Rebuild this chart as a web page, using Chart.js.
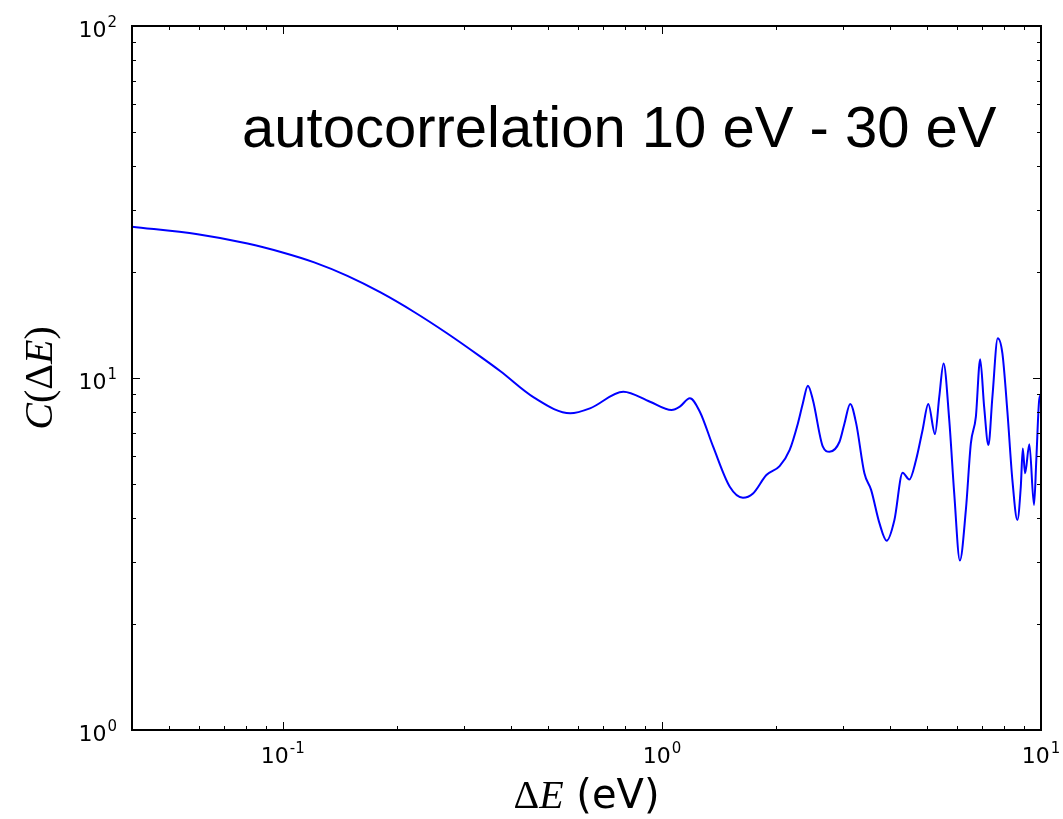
<!DOCTYPE html>
<html lang="en">
<head>
  <meta charset="UTF-8" />
  <title>Autocorrelation 10 eV - 30 eV</title>
  <script src="https://cdn.jsdelivr.net/npm/chart.js"></script>
  <style>
    html, body { margin: 0; padding: 0; background: #fff; }
    #wrap { width: 1063px; height: 819px; }
  </style>
</head>
<body>
<div id="wrap"><canvas id="acChart" width="1063" height="819"></canvas></div>

<script>
// energy separation (eV) and autocorrelation values
const deltaE = [
  0.040, 0.0596, 0.0807, 0.0988, 0.121, 0.148, 0.181, 0.222, 0.271, 0.332,
  0.375, 0.459, 0.573, 0.646, 0.791, 0.930, 1.060, 1.115, 1.185, 1.259,
  1.365, 1.510, 1.636, 1.739, 1.886, 2.044, 2.173, 2.284, 2.354, 2.427,
  2.502, 2.658, 2.767, 2.941, 3.031, 3.138, 3.254, 3.421, 3.563, 3.748,
  3.916, 4.105, 4.315, 4.494, 4.681, 4.871, 5.043, 5.253, 5.391, 5.533,
  5.727, 5.903, 6.110, 6.336, 6.531, 6.732, 6.911, 7.079, 7.266, 7.445,
  7.690, 7.910, 8.154, 8.405, 8.663, 8.845, 8.953, 9.077, 9.316, 9.585,
  9.719, 9.880, 10.0
];
const corr = [
  26.9, 25.6, 24.1, 22.8, 21.3, 19.5, 17.5, 15.4, 13.4, 11.5,
  10.45, 8.81, 7.94, 8.20, 9.14, 8.56, 8.11, 8.29, 8.76, 8.02,
  6.38, 4.91, 4.57, 4.70, 5.30, 5.62, 6.25, 7.43, 8.48, 9.51,
  8.66, 6.38, 6.17, 6.59, 7.43, 8.44, 7.43, 5.36, 4.81, 3.87,
  3.45, 3.95, 5.38, 5.15, 5.85, 7.12, 8.44, 6.93, 8.85, 11.0,
  7.60, 4.70, 3.03, 4.22, 6.52, 7.76, 11.3, 8.29, 6.45, 8.85,
  12.97, 11.75, 8.02, 5.13, 3.95, 4.91, 6.31, 5.36, 6.48, 4.36,
  5.85, 8.56, 9.0
];

const xMajorTicks = [0.1, 1, 10];
const xTickExps = ['-1', '0', '1'];
const xMinorTicks = [0.05, 0.06, 0.07, 0.08, 0.09, 0.2, 0.3, 0.4, 0.5, 0.6, 0.7, 0.8, 0.9,
                     2, 3, 4, 5, 6, 7, 8, 9];
const yMajorTicks = [1, 10, 100];
const yTickExps = ['0', '1', '2'];
const yMinorTicks = [2, 3, 4, 5, 6, 7, 8, 9, 20, 30, 40, 50, 60, 70, 80, 90];

const titleText = 'autocorrelation 10 eV - 30 eV';

// draws "10" with a raised exponent
function drawPow(ctx, exp, x, y, align) {
  ctx.font = '22px "DejaVu Sans"';
  const w1 = ctx.measureText('10').width;
  ctx.font = '15px "DejaVu Sans"';
  const w2 = ctx.measureText(exp).width;
  const total = w1 + w2 + 1;
  let sx = x;
  if (align === 'center') sx = x - total / 2;
  else if (align === 'right') sx = x - total;
  ctx.textAlign = 'left';
  ctx.textBaseline = 'alphabetic';
  ctx.font = '22px "DejaVu Sans"';
  ctx.fillText('10', sx, y);
  ctx.font = '15px "DejaVu Sans"';
  ctx.fillText(exp, sx + w1 + 1, y - 10);
}

// draws a list of [text, font] pieces centred at x
function drawPieces(ctx, pieces, x, y) {
  let total = 0;
  for (const p of pieces) { ctx.font = p[1]; total += ctx.measureText(p[0]).width; }
  let sx = x - total / 2;
  ctx.textAlign = 'left';
  ctx.textBaseline = 'alphabetic';
  for (const p of pieces) {
    ctx.font = p[1];
    ctx.fillText(p[0], sx, y);
    sx += ctx.measureText(p[0]).width;
  }
}

const axesPlugin = {
  id: 'mplAxes',
  afterDraw(chart) {
    const ctx = chart.ctx;
    const a = chart.chartArea;
    const xs = chart.scales.x, ys = chart.scales.y;
    ctx.save();
    ctx.fillStyle = '#000';

    // inward ticks on all four sides
    ctx.strokeStyle = '#000';
    ctx.lineWidth = 1;
    const tick = (x1, y1, x2, y2) => { ctx.beginPath(); ctx.moveTo(x1, y1); ctx.lineTo(x2, y2); ctx.stroke(); };
    xMajorTicks.forEach(v => { const px = Math.round(xs.getPixelForValue(v)) + 0.5; tick(px, a.bottom, px, a.bottom - 8); tick(px, a.top, px, a.top + 8); });
    xMinorTicks.forEach(v => { const px = Math.round(xs.getPixelForValue(v)) + 0.5; tick(px, a.bottom, px, a.bottom - 4); tick(px, a.top, px, a.top + 4); });
    yMajorTicks.forEach(v => { const py = Math.round(ys.getPixelForValue(v)) + 0.5; tick(a.left, py, a.left + 8, py); tick(a.right, py, a.right - 8, py); });
    yMinorTicks.forEach(v => { const py = Math.round(ys.getPixelForValue(v)) + 0.5; tick(a.left, py, a.left + 4, py); tick(a.right, py, a.right - 4, py); });

    // frame
    ctx.lineWidth = 2;
    ctx.strokeRect(a.left, a.top, a.right - a.left, a.bottom - a.top);

    // tick labels
    xMajorTicks.forEach((v, i) => drawPow(ctx, xTickExps[i], xs.getPixelForValue(v), a.bottom + 33, 'center'));
    yMajorTicks.forEach((v, i) => drawPow(ctx, yTickExps[i], a.left - 15, ys.getPixelForValue(v) + 11, 'right'));

    // x axis label
    drawPieces(ctx, [
      ['\u0394', '40px "Liberation Serif"'],
      ['E', 'italic 40px "Liberation Serif"'],
      [' (eV)', '40px "DejaVu Sans"']
    ], (a.left + a.right) / 2, 808);

    // y axis label
    ctx.save();
    ctx.translate(52, (a.top + a.bottom) / 2);
    ctx.rotate(-Math.PI / 2);
    drawPieces(ctx, [
      ['C', 'italic 40px "Liberation Serif"'],
      ['(', '40px "Liberation Serif"'],
      ['\u0394', '40px "Liberation Serif"'],
      ['E', 'italic 40px "Liberation Serif"'],
      [')', '40px "Liberation Serif"']
    ], 0, 0);
    ctx.restore();

    // text inside the axes
    ctx.font = '58px "Liberation Sans"';
    ctx.textAlign = 'left';
    ctx.textBaseline = 'alphabetic';
    ctx.fillText(titleText, 242, 147);

    ctx.restore();
  }
};

new Chart(document.getElementById('acChart'), {
  type: 'line',
  data: {
    datasets: [{
      data: deltaE.map((x, i) => ({ x: x, y: corr[i] })),
      borderColor: '#0000ff',
      borderWidth: 2,
      pointRadius: 0,
      fill: false,
      cubicInterpolationMode: 'monotone'
    }]
  },
  options: {
    responsive: false,
    animation: false,
    layout: { padding: { left: 132, right: 22, top: 26, bottom: 89 } },
    plugins: { legend: { display: false }, tooltip: { enabled: false } },
    scales: {
      x: { type: 'logarithmic', min: 0.04, max: 10, display: false },
      y: { type: 'logarithmic', min: 1, max: 100, display: false }
    }
  },
  plugins: [axesPlugin]
});
</script>
</body>
</html>
